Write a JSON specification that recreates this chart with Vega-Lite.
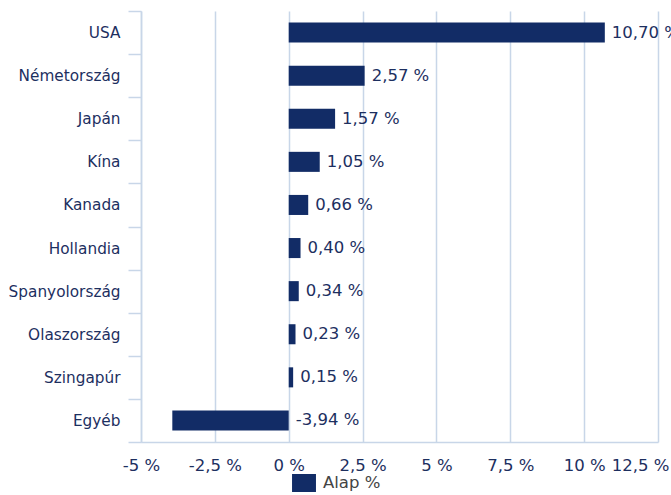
{
  "$schema": "https://vega.github.io/schema/vega-lite/v6.json",
  "width": 517,
  "height": 431,
  "autosize": {"type": "none"},
  "padding": {"left": 141, "top": 11, "right": 13, "bottom": 53},
  "background": "white",
  "config": {
    "view": {"stroke": null},
    "font": "DejaVu Sans",
    "axis": {"labelFont": "DejaVu Sans", "labelFontSize": 15, "labelColor": "#1d2f5f"}
  },
  "data": {
    "values": [
      {"country": "USA", "v": 10.70},
      {"country": "Németország", "v": 2.57},
      {"country": "Japán", "v": 1.57},
      {"country": "Kína", "v": 1.05},
      {"country": "Kanada", "v": 0.66},
      {"country": "Hollandia", "v": 0.40},
      {"country": "Spanyolország", "v": 0.34},
      {"country": "Olaszország", "v": 0.23},
      {"country": "Szingapúr", "v": 0.15},
      {"country": "Egyéb", "v": -3.94}
    ]
  },
  "transform": [
    {"calculate": "max(datum.v, 0)", "as": "xl"},
    {"calculate": "(datum.v < 0 ? '-' : '') + replace(format(abs(datum.v), '.2f'), '.', ',') + ' %'", "as": "label"}
  ],
  "encoding": {
    "y": {
      "field": "country", "type": "nominal", "sort": null,
      "scale": {"paddingInner": 0, "paddingOuter": 0},
      "axis": {
        "title": null, "domain": true, "domainColor": "#c8d6e8", "domainWidth": 1.5,
        "ticks": true, "tickBand": "extent", "tickSize": 13, "tickColor": "#c8d6e8", "tickWidth": 1.5,
        "labelPadding": 8, "grid": false, "labelFontSize": 15.3
      }
    }
  },
  "layer": [
    {
      "mark": {"type": "bar", "height": {"band": 0.465}},
      "encoding": {
        "x": {
          "field": "v", "type": "quantitative",
          "scale": {"domain": [-5, 12.5], "nice": false, "zero": false},
          "axis": {
            "title": null, "values": [-5, -2.5, 0, 2.5, 5, 7.5, 10, 12.5],
            "labelExpr": "replace(datum.value + '', '.', ',') + ' %'",
            "grid": true, "gridColor": "#c8d6e8", "gridWidth": 1.5,
            "domain": true, "domainColor": "#c8d6e8", "domainWidth": 1.5,
            "ticks": false, "labelPadding": 15, "labelFlush": false, "labelFontSize": 16.5,
            "labelOffset": {"condition": {"test": "datum.value == 12.5", "value": -18}, "value": 0}
          }
        },
        "color": {
          "datum": "Alap %",
          "scale": {"range": ["#122c66"]},
          "legend": {
            "title": null, "orient": "none", "legendX": 154, "legendY": 463,
            "symbolType": "M-1.33,-1H1.33V1H-1.33Z", "symbolSize": 324,
            "symbolStrokeWidth": 0, "labelFontSize": 16.5, "labelColor": "#444444",
            "labelFont": "DejaVu Sans", "labelOffset": 10
          }
        }
      }
    },
    {
      "mark": {"type": "text", "align": "left", "baseline": "middle", "dx": 7, "fontSize": 16.5, "color": "#1d2f5f", "font": "DejaVu Sans"},
      "encoding": {
        "x": {"field": "xl", "type": "quantitative"},
        "text": {"field": "label", "type": "nominal"}
      }
    }
  ]
}
